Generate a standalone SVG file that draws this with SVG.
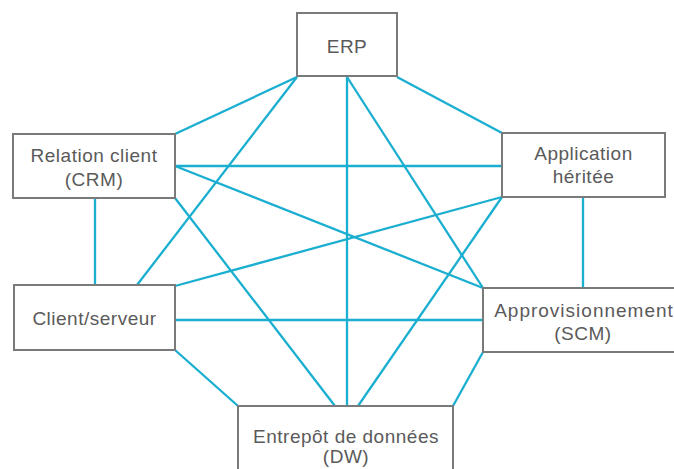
<svg xmlns="http://www.w3.org/2000/svg" width="674" height="469" viewBox="0 0 674 469">
<style>
.box{fill:#fff;stroke:#7a7a7a;stroke-width:2}
.lbl{font-family:"Liberation Sans",Arial,sans-serif;font-size:19px;fill:#5a5a5a;text-anchor:middle;letter-spacing:0.5px}
.c line{stroke:#1aaed0;stroke-width:2.3;fill:none}
</style>
<rect width="674" height="469" fill="#fff"/>
<g id="connectors" class="c">
<line x1="297" y1="77" x2="175" y2="134"/>
<line x1="297" y1="77" x2="137" y2="285"/>
<line x1="347" y1="77" x2="347" y2="406"/>
<line x1="347" y1="77" x2="483" y2="288"/>
<line x1="397" y1="77" x2="502" y2="133"/>
<line x1="175" y1="166" x2="502" y2="166"/>
<line x1="175" y1="166" x2="483" y2="288"/>
<line x1="175" y1="198" x2="335" y2="406"/>
<line x1="95" y1="198" x2="95" y2="285"/>
<line x1="502" y1="197" x2="175" y2="286"/>
<line x1="502" y1="197" x2="358" y2="406"/>
<line x1="583" y1="197" x2="583" y2="288"/>
<line x1="175" y1="320" x2="483" y2="320"/>
<line x1="175" y1="350" x2="238" y2="406"/>
<line x1="483" y1="352" x2="453" y2="406"/>
</g>
<g id="erp">
<rect class="box" x="297" y="13" width="100" height="63"/>
<text class="lbl" x="347" y="53">ERP</text>
</g>
<g id="crm">
<rect class="box" x="13" y="134" width="162" height="64"/>
<text class="lbl" x="94" y="162">Relation client</text>
<text class="lbl" x="94" y="186">(CRM)</text>
</g>
<g id="app">
<rect class="box" x="502" y="133" width="163" height="64"/>
<text class="lbl" x="583.5" y="160">Application</text>
<text class="lbl" x="583.5" y="183">héritée</text>
</g>
<g id="cs">
<rect class="box" x="14" y="285" width="161" height="65"/>
<text class="lbl" x="94.5" y="325">Client/serveur</text>
</g>
<g id="scm">
<rect class="box" x="483" y="288" width="200" height="64"/>
<text class="lbl" x="584" y="317" style="letter-spacing:1px">Approvisionnement</text>
<text class="lbl" x="583" y="340">(SCM)</text>
</g>
<g id="dw">
<rect class="box" x="238" y="406" width="215" height="70"/>
<text class="lbl" x="346" y="443">Entrepôt de données</text>
<text class="lbl" x="346" y="463">(DW)</text>
</g>
</svg>
